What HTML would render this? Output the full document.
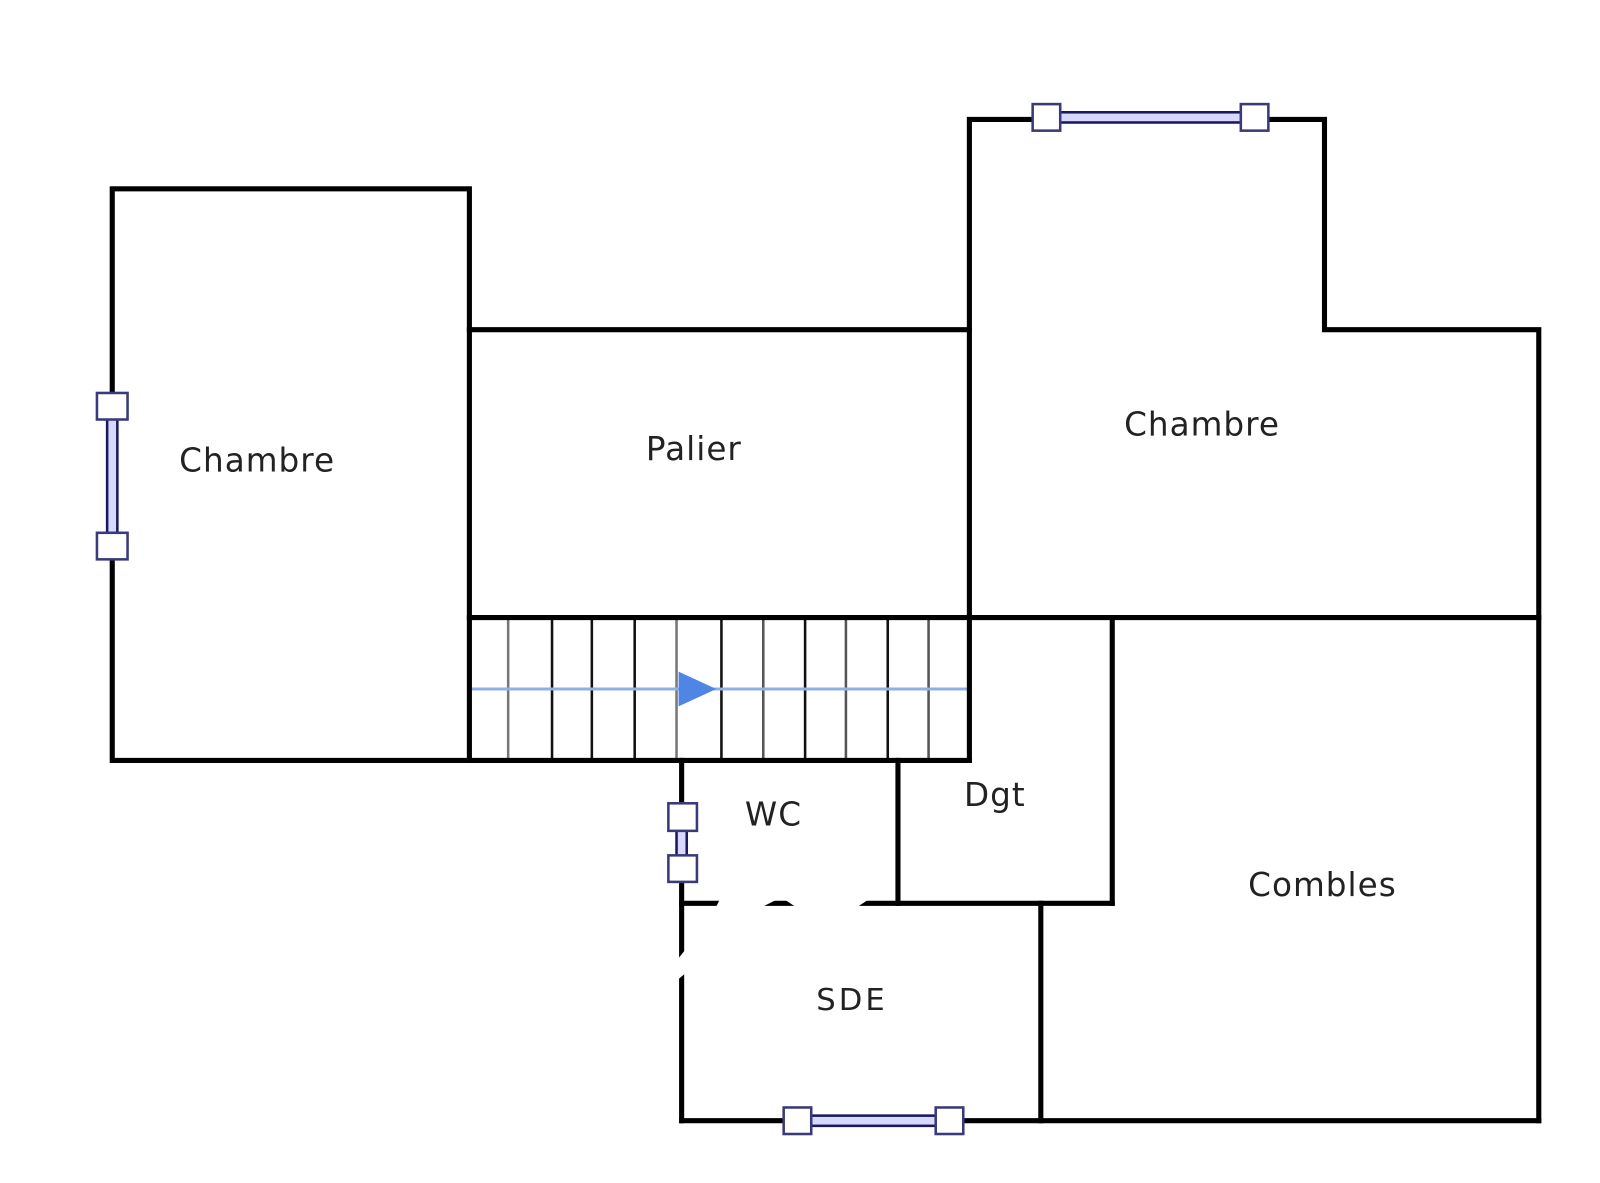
<!DOCTYPE html>
<html><head><meta charset="utf-8"><style>
html,body{margin:0;padding:0;background:#fff;}
svg{display:block;}
text{font-family:"DejaVu Sans","Liberation Sans",sans-serif;fill:#222;font-size:32px;letter-spacing:1px;text-anchor:middle;dominant-baseline:middle;}
</style></head><body>
<svg width="1600" height="1183" viewBox="0 0 1568 1159" preserveAspectRatio="none" xmlns="http://www.w3.org/2000/svg">
<rect width="1568" height="1159" fill="#fff"/>
<g stroke="#111" stroke-width="2.5">
<line x1="498" y1="605" x2="498" y2="745" stroke="#777"/>
<line x1="541" y1="605" x2="541" y2="745"/>
<line x1="580" y1="605" x2="580" y2="745"/>
<line x1="622" y1="605" x2="622" y2="745"/>
<line x1="663" y1="605" x2="663" y2="745" stroke="#777"/>
<line x1="707" y1="605" x2="707" y2="745"/>
<line x1="748" y1="605" x2="748" y2="745" stroke="#555"/>
<line x1="789" y1="605" x2="789" y2="745"/>
<line x1="829" y1="605" x2="829" y2="745" stroke="#555"/>
<line x1="870" y1="605" x2="870" y2="745"/>
<line x1="910" y1="605" x2="910" y2="745" stroke="#555"/>
</g>
<line x1="460" y1="675" x2="950" y2="675" stroke="#8fb0e6" stroke-width="3"/>
<polygon points="665,658 702,675 665,692" fill="#4f86e6"/>
<g stroke="#000" stroke-width="5" fill="none" stroke-linecap="square">
<rect x="110" y="185" width="350" height="560"/>
<line x1="460" y1="323" x2="950" y2="323"/>
<polyline points="950,605 950,117 1298,117 1298,323 1508,323 1508,1098"/>
<line x1="460" y1="605" x2="1508" y2="605"/>
<line x1="950" y1="605" x2="950" y2="745"/>
<line x1="460" y1="745" x2="950" y2="745"/>
<line x1="668" y1="745" x2="668" y2="1098"/>
<line x1="880" y1="745" x2="880" y2="885"/>
<line x1="1090" y1="605" x2="1090" y2="885"/>
<line x1="668" y1="885" x2="1090" y2="885"/>
<line x1="1020" y1="885" x2="1020" y2="1098"/>
<line x1="668" y1="1098" x2="1508" y2="1098"/>
</g>
<polygon points="705,882 760,882 740,892 700,892" fill="#fff"/>
<polygon points="770,882 850,882 835,892 785,892" fill="#fff"/>
<polygon points="664,940 676,925 676,950 664,960" fill="#fff"/>
<g stroke="#1a1a5a" stroke-width="2.5">
<rect x="105" y="398" width="10" height="137" fill="#d8d8ff"/>
<rect x="1025" y="110" width="205" height="10" fill="#d8d8ff"/>
<rect x="663" y="800" width="10" height="50" fill="#d8d8ff"/>
<rect x="782" y="1093" width="148" height="10" fill="#d8d8ff"/>
</g>
<g fill="#fff" stroke="#3a3a7a" stroke-width="2.5">
<rect x="95" y="385" width="30" height="26"/>
<rect x="95" y="522" width="30" height="26"/>
<rect x="1012" y="102" width="27" height="26"/>
<rect x="1216" y="102" width="27" height="26"/>
<rect x="655" y="787" width="28" height="27"/>
<rect x="655" y="838" width="28" height="26"/>
<rect x="768" y="1085" width="27" height="26"/>
<rect x="917" y="1085" width="27" height="26"/>
</g>
<text x="252" y="453">Chambre</text>
<text x="680" y="442">Palier</text>
<text x="1178" y="418">Chambre</text>
<text x="758" y="800">WC</text>
<text x="975" y="781">Dgt</text>
<text x="1296" y="869">Combles</text>
<text x="835" y="981" style="font-size:30px;letter-spacing:3px">SDE</text>
</svg>
</body></html>
